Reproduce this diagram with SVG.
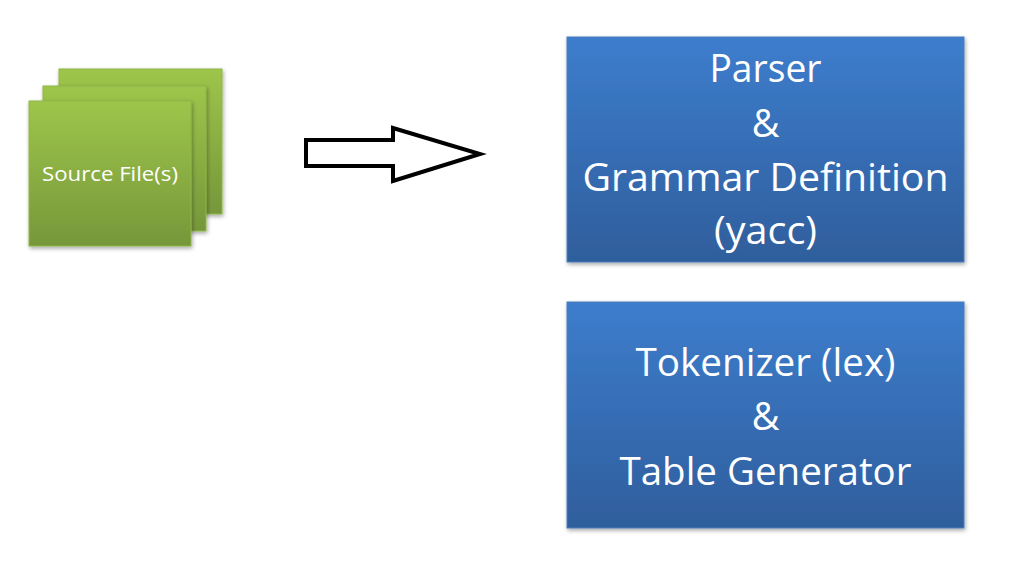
<svg xmlns="http://www.w3.org/2000/svg" width="1014" height="567" viewBox="0 0 1014 567">
<defs>
<linearGradient id="gBlue" x1="0" y1="0" x2="0" y2="1">
<stop offset="0" stop-color="#3d7dcd"/>
<stop offset="1" stop-color="#2f5e9c"/>
</linearGradient>
<linearGradient id="gGreen" x1="0" y1="0" x2="0" y2="1">
<stop offset="0" stop-color="#9ec54b"/>
<stop offset="1" stop-color="#76973a"/>
</linearGradient>
<filter id="sh" x="-10%" y="-10%" width="130%" height="130%">
<feGaussianBlur in="SourceAlpha" stdDeviation="2"/>
<feOffset dx="1" dy="2" result="b"/>
<feComponentTransfer><feFuncA type="linear" slope="0.35"/></feComponentTransfer>
<feMerge><feMergeNode/><feMergeNode in="SourceGraphic"/></feMerge>
</filter>
</defs>
<style>
.blue{fill:url(#gBlue);stroke:#4a7ebb;stroke-width:1;filter:url(#sh)}
.sheet{fill:url(#gGreen);stroke:#8fb548;stroke-width:1;filter:url(#sh)}
.big{font-family:"Open Sans","Noto Sans",sans-serif;font-size:38px;fill:#ffffff;text-anchor:middle}
.small{font-family:"Open Sans","Noto Sans",sans-serif;font-size:20px;fill:#ffffff;text-anchor:middle}
.conn{fill:#ffffff;stroke:#000000;stroke-width:4;stroke-linejoin:miter}
</style>
<g id="source-files">
<rect class="sheet" x="59" y="69" width="163" height="145"/>
<rect class="sheet" x="43" y="86" width="163" height="145"/>
<rect class="sheet" x="29" y="101" width="162" height="145"/>
<text class="small" x="110" y="181" textLength="136" lengthAdjust="spacingAndGlyphs">Source File(s)</text>
</g>
<g id="connectors">
<polygon class="conn" points="306,140 393,140 393,128 480,154 393,181 393,166 306,166"/>
</g>
<g id="parser">
<rect class="blue" x="567" y="37" width="397" height="225"/>
<text class="big" x="765.5" y="82" textLength="112" lengthAdjust="spacingAndGlyphs">Parser</text>
<text class="big" x="765.5" y="137">&amp;</text>
<text class="big" x="765.5" y="191" textLength="366" lengthAdjust="spacingAndGlyphs">Grammar Definition</text>
<text class="big" x="765.5" y="244" textLength="103" lengthAdjust="spacingAndGlyphs">(yacc)</text>
</g>
<g id="tokenizer">
<rect class="blue" x="567" y="302" width="397" height="226"/>
<text class="big" x="765.5" y="376" textLength="260" lengthAdjust="spacingAndGlyphs">Tokenizer (lex)</text>
<text class="big" x="765.5" y="430">&amp;</text>
<text class="big" x="765.5" y="485" textLength="292" lengthAdjust="spacingAndGlyphs">Table Generator</text>
</g>
</svg>
